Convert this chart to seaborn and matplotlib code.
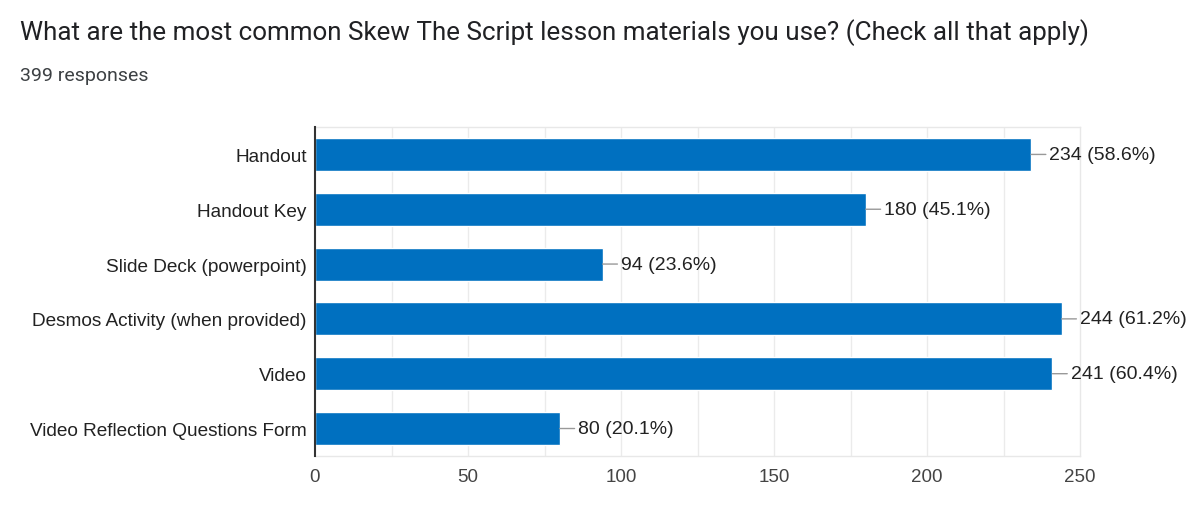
import numpy as np
import pandas as pd
import seaborn as sns
from matplotlib import pyplot as plt

# survey answers, top to bottom
materials = ['Handout', 'Handout Key', 'Slide Deck (powerpoint)',
             'Desmos Activity (when provided)', 'Video', 'Video Reflection Questions Form']
counts = [234, 180, 94, 244, 241, 80]
percents = [58.6, 45.1, 23.6, 61.2, 60.4, 20.1]
n_responses = 399
x_ticks = [0, 50, 100, 150, 200, 250]

df = pd.DataFrame({'material': materials, 'count': counts})

sns.set_style("white")
plt.rcParams['font.family'] = ['Liberation Sans', 'DejaVu Sans']

fig = plt.figure(figsize=(12, 5.06), dpi=100)
ax = fig.add_axes([0.2625, 0.097, 0.6375, 0.65])

sns.barplot(data=df, x='count', y='material', order=materials, color='#0070c0',
            saturation=1, width=0.6, ax=ax, zorder=3)

# light grid every 25
for v in range(25, 250, 25):
    ax.axvline(v, color='#ebebeb', lw=1, zorder=0)

ax.set_xlim(0, 250)
ax.set_ylim(5.5, -0.5)
ax.set_xticks(x_ticks)
ax.set_xticklabels([str(t) for t in x_ticks], fontsize=13.5, color='#444444')
ax.tick_params(axis='y', labelsize=13.7, labelcolor='#222222', length=0, pad=6)
ax.tick_params(axis='x', length=0, pad=9)
ax.set_xlabel('')
ax.set_ylabel('')

for s in ['top', 'right', 'bottom']:
    ax.spines[s].set_color('#e8e8e8')
    ax.spines[s].set_linewidth(1)
ax.spines['left'].set_color('#333333')
ax.spines['left'].set_linewidth(1.5)
ax.spines['left'].set_zorder(5)

# value labels with short leader line
for i, (c, p) in enumerate(zip(counts, percents)):
    ax.annotate(f'{c} ({p}%)', xy=(c, i), xytext=(13, 0), textcoords='offset points',
                ha='left', va='center', fontsize=14, color='#222222',
                arrowprops=dict(arrowstyle='-', color='#999999', lw=1,
                                shrinkA=0, shrinkB=0))

fig.text(20 / 1200, 1 - 33 / 506,
         'What are the most common Skew The Script lesson materials you use? (Check all that apply)',
         ha='left', va='center', fontsize=18.7, color='#202124', family=['Roboto', 'DejaVu Sans'])
fig.text(20 / 1200, 1 - 76 / 506, f'{n_responses} responses',
         ha='left', va='center', fontsize=14, color='#3c4043', family=['Roboto', 'DejaVu Sans'])

fig.savefig('out.png', dpi=100, facecolor='white')
